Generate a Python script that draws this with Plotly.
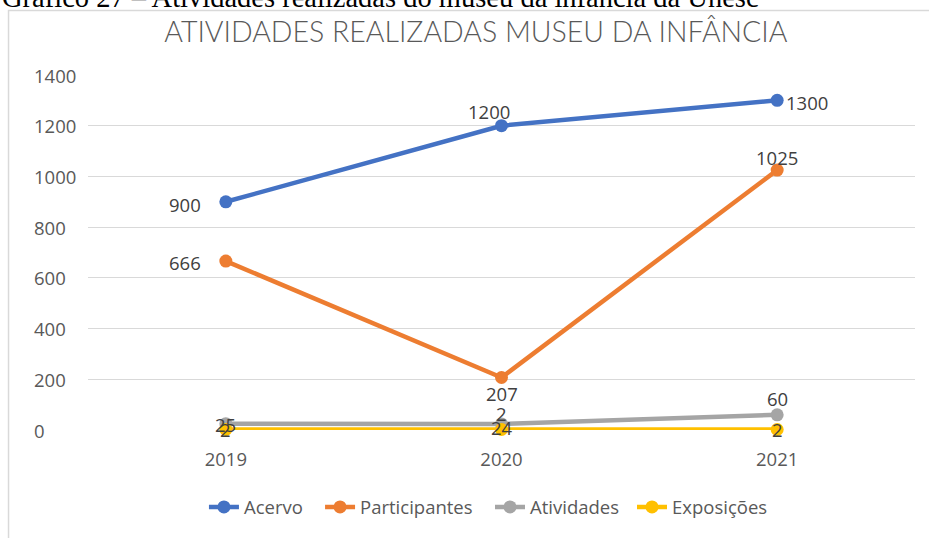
import plotly.graph_objects as go

# Chart data
anos = ["2019", "2020", "2021"]
acervo = [900, 1200, 1300]
participantes = [666, 207, 1025]
atividades = [25, 24, 60]
exposicoes = [2, 2, 2]
y_ticks = [0, 200, 400, 600, 800, 1000, 1200, 1400]

FONT = "Open Sans"
FS = 18.5
TXT = "#595959"
LBL = "#404040"

# (name, values, colour, label offsets in px per point, legend x)
series = [
    ("Acervo", acervo, "#4472C4", [(-41, -3), (-13, 14), (30, -2)], 0.1402),
    ("Participantes", participantes, "#ED7D31", [(-41, -1), (0, -16), (0, 13)], 0.2806),
    ("Atividades", atividades, "#A5A5A5", [(0, -1), (0, -4), (0, 16)], 0.4861),
    ("Exposições", exposicoes, "#FFC000", [(0, 0), (0, 16), (0, 0)], 0.6578),
]

fig = go.Figure()
annotations = []
legends = {}
for k, (name, vals, color, offs, lx) in enumerate(series):
    lname = "legend" if k == 0 else f"legend{k + 1}"
    fig.add_trace(go.Scatter(
        x=anos, y=vals, name=name, mode="lines+markers",
        line=dict(color=color, width=4.5),
        marker=dict(color=color, size=13),
        cliponaxis=False, legend=lname,
    ))
    legends[lname] = dict(
        orientation="h", x=lx, xanchor="left", y=-0.218, yanchor="middle",
        font=dict(family=FONT, size=FS, color=TXT), itemwidth=30,
        bgcolor="rgba(0,0,0,0)",
    )
    for i, (v, (dx, dy)) in enumerate(zip(vals, offs)):
        annotations.append(dict(
            x=i, y=v, xref="x", yref="y", text=str(v), showarrow=False,
            xshift=dx, yshift=dy, xanchor="center", yanchor="middle",
            font=dict(family=FONT, size=FS, color=LBL),
        ))

# left-aligned value axis labels
annotations += [
    dict(x=-0.0677, y=v, xref="paper", yref="y", text=str(v), showarrow=False,
         xanchor="left", yanchor="middle", font=dict(family=FONT, size=FS, color=TXT))
    for v in y_ticks
]
# document caption above the chart frame
annotations.append(dict(
    x=-0.1064, y=1.217, xref="paper", yref="paper", xanchor="left", yanchor="middle",
    text="Gráfico 27 – Atividades realizadas do museu da infância da Unesc",
    showarrow=False, font=dict(family="Liberation Serif", size=28.5, color="#000000"),
))

fig.update_layout(
    width=929, height=538,
    margin=dict(l=88, r=14, t=75, b=106),
    paper_bgcolor="white", plot_bgcolor="white",
    title=dict(text="ATIVIDADES REALIZADAS MUSEU DA INFÂNCIA", xref="paper", x=0.469,
               xanchor="center", y=0.94, yanchor="middle",
               font=dict(family="Lato", size=28.5, color="#595959", weight=300)),
    xaxis=dict(type="category", range=[-0.5, 2.5], showgrid=False, showline=False,
               ticks="", tickfont=dict(family=FONT, size=FS, color=TXT), ticklabelstandoff=16),
    yaxis=dict(range=[0, 1400], tickvals=y_ticks, showticklabels=False,
               gridcolor="#D9D9D9", gridwidth=1, zeroline=False, showline=False),
    showlegend=True,
    annotations=annotations,
    shapes=[dict(type="rect", xref="paper", yref="paper",
                 x0=-0.0961, x1=1.02, y0=-0.33, y1=1.182,
                 line=dict(color="#D9D9D9", width=1.5), fillcolor="rgba(0,0,0,0)",
                 layer="below")],
    **legends,
)

fig.write_html("out.html")
